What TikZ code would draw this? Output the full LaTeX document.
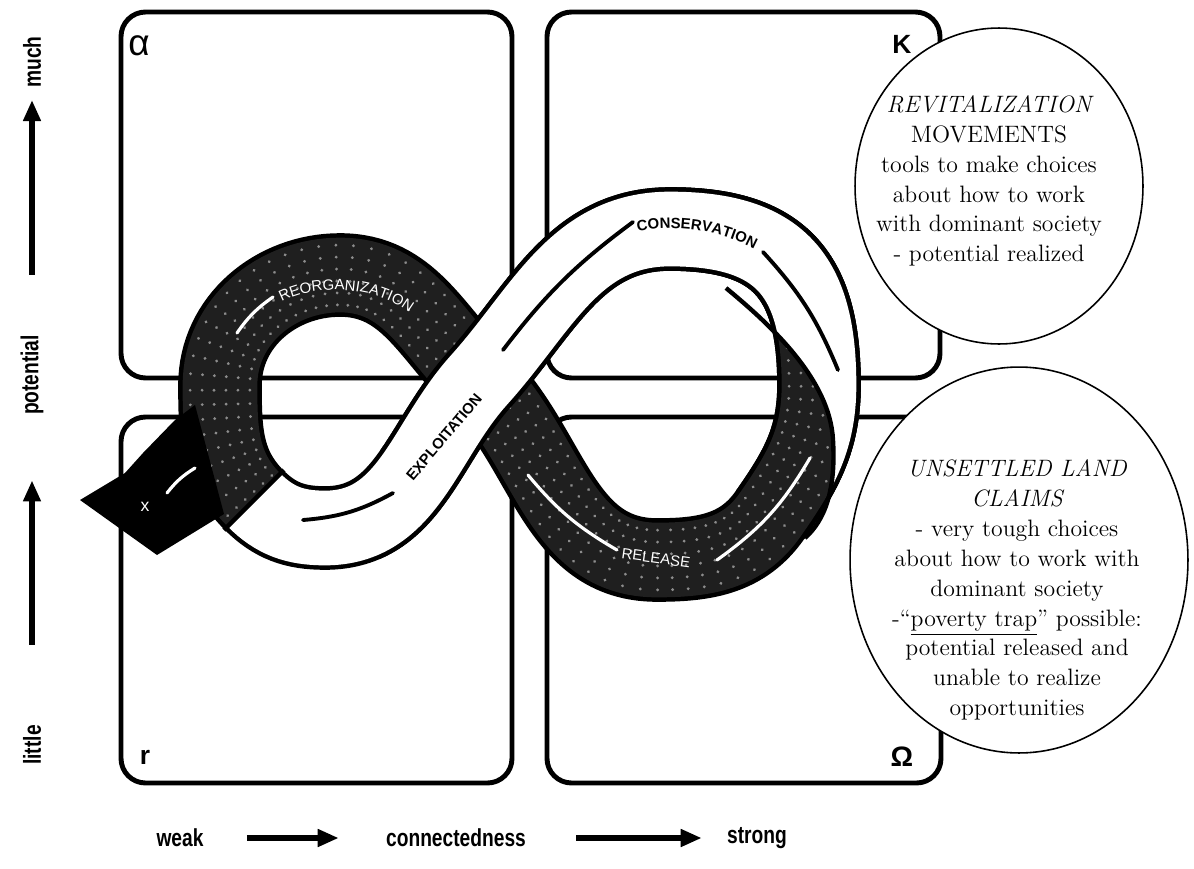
\documentclass[tikz,border=0pt]{standalone}
\usepackage{amsmath}
\usepackage{fontspec}
\usetikzlibrary{arrows.meta,positioning,calc,shapes.geometric,decorations.text,decorations.markings}
\newfontfamily\axisfont[FakeStretch=0.78]{Liberation Sans}
\newfontfamily\labfont{Liberation Sans}
\newcommand\bandfont{\labfont\fontsize{8.5}{8.5}\selectfont}
\newcommand\bandbold{\labfont\bfseries\fontsize{8.5}{8.5}\selectfont}

\begin{document}
\begin{tikzpicture}[x=0.02cm,y=0.02cm,
  quadbox/.style={draw=black,line width=2.8pt,rounded corners=14pt},
  cornerlab/.style={font=\labfont\bfseries\fontsize{15}{15}\selectfont,inner sep=0pt},
  axislab/.style={font=\axisfont\bfseries\fontsize{14}{14}\selectfont,inner sep=0pt},
  axisarrow/.style={-{Triangle[length=12pt,width=9.5pt]},line width=3.2pt},
  whiteribbon/.style={preaction={draw=black,line width=47.6pt},draw=white,line width=42.5pt},
  darkribbon/.style={preaction={draw=black,line width=47.6pt},draw=black!88,line width=42.5pt},
  stipple/.style={postaction={decorate},decoration={markings,
    mark=between positions 0 and 1 step 8pt with {\foreach \o in {-17,-10.2,-3.4,3.4,10.2,17}
      {\fill[black!45] (0pt,\o pt) circle (0.9pt);}}}},
  flowline/.style={line width=2.2pt,line cap=round},
  note/.style={ellipse,draw=black,line width=0.9pt,fill=white,inner sep=0pt},
  notetext/.style={align=center,font=\fontsize{13.5}{17}\selectfont,inner sep=0pt}]
\useasboundingbox (0,0) rectangle (1194,-869);

% the four phase boxes
\draw[quadbox] (121,-12) rectangle (512,-378);
\draw[quadbox] (547,-12) rectangle (940,-378);
\draw[quadbox] (121,-417) rectangle (512,-783);
\draw[quadbox] (547,-417) rectangle (941,-783);
\node[cornerlab,font=\labfont\fontsize{21}{21}\selectfont] (alpha) at (139,-46) {α};
\node[cornerlab] (kappa) at (902,-44) {K};
\node[cornerlab] (rlab) at (145,-757) {r};
\node[cornerlab,font=\labfont\bfseries\fontsize{16}{16}\selectfont] (omega) at (902,-757) {Ω};

% ribbon centre line
\coordinate (S) at (254,-500);
\coordinate (LB) at (325,-528);
\coordinate (X) at (479,-380);
\coordinate (RT) at (670,-229);
\coordinate (RR) at (819,-385);
\coordinate (RM) at (770,-515);
\coordinate (RB) at (657,-560);
\coordinate (LT) at (340,-275);
\coordinate (LL) at (220,-385);
\coordinate (A) at (726,-288);
\coordinate (B) at (805,-538);

\draw[whiteribbon] (S) to[out=-45,in=180] (LB) to[out=0,in=228] (X) to[out=48,in=180] (RT)
  to[out=0,in=90,looseness=1.3] (RR) to[out=-90,in=55] (RM);
\draw[darkribbon,stipple] (RT) to[out=0,in=90,looseness=1.3] (RR) to[out=-90,in=55] (RM)
  to[out=235,in=0] (RB) to[out=180,in=-45] (X) to[out=135,in=0] (LT)
  to[out=180,in=90] (LL) to[out=-90,in=135] (S);
\draw[line width=2.5pt] ($(S)+(-30,-30)$) -- ($(S)+(30,30)$);
\fill (195,-405) -- (175,-420) -- (143,-453) -- (125,-473) -- (80,-500) -- (157,-555) -- (224,-514) -- cycle;

% white side on top, up to the twist
\begin{scope}
  \clip (A) .. controls (772,-326) and (830,-380) .. (833,-440) .. controls (836,-490) and (825,-520) .. (B)
    -- (832,-578) -- (985,-578) -- (985,-150) -- (380,-150) -- (380,-600) -- (480,-600) -- (640,-440) -- cycle;
  \draw[whiteribbon] (S) to[out=-45,in=180] (LB) to[out=0,in=228] (X) to[out=48,in=180] (RT)
    to[out=0,in=90,looseness=1.3] (RR) to[out=-90,in=55] (RM);
\end{scope}
\draw[line width=2.5pt] (A) .. controls (772,-326) and (830,-380) .. (833,-440) .. controls (836,-490) and (825,-520) .. (B);

% flow lines and phase names
\draw[flowline] (303,-520) to[bend right=12] (393,-493);
\draw[flowline] (503,-350) to[bend left=8] (633,-222);
\draw[flowline] (763,-252) to[bend left=10] (838,-370);
\draw[flowline,white,line width=1.8pt] (528,-475) to[bend right=10] (617,-550);
\draw[flowline,white,line width=1.8pt] (717,-560) to[bend right=12] (810,-458);
\draw[flowline,white,line width=1.8pt] (237,-333) to[bend left=10] (273,-297);
\draw[flowline,white,line width=1.8pt] (167,-493) to[bend left=10] (195,-468);
\path[decorate,decoration={text along path,text align=center,text color=white,
  text={|\bandfont|REORGANIZATION}}] (270,-310) .. controls (300,-283) and (380,-280) .. (420,-322);
\path[decorate,decoration={text along path,text align=center,
  text={|\bandbold|CONSERVATION}}] (620,-236) .. controls (655,-224) and (715,-222) .. (770,-258);
\node[font=\bandbold,rotate=50] (exploit) at (444,-437) {EXPLOITATION};
\node[font=\bandfont,text=white,rotate=-8] (release) at (656,-558) {RELEASE};
\node[font=\labfont\fontsize{10}{10}\selectfont,text=white] (exitx) at (145,-507) {x};

% notes
\node[note,minimum width=5.76cm,minimum height=6.32cm] (revital) at (999,-186) {};
\node[notetext] (revitaltext) at (989,-181) {{\itshape REVITALIZATION}\\MOVEMENTS\\tools to make choices\\about how to work\\with dominant society\\- potential realized};
\node[note,minimum width=6.76cm,minimum height=7.72cm] (landclaims) at (1019,-560) {};
\node[notetext] (landtext) at (1017,-590) {{\itshape UNSETTLED LAND}\\{\itshape CLAIMS}\\- very tough choices\\about how to work with\\dominant society\\-“\underline{poverty trap}” possible:\\potential released and\\unable to realize\\opportunities};

% axes
\node[axislab] (weak) at (180,-838) {weak};
\node[axislab] (conn) at (456,-838) {connectedness};
\node[axislab] (strong) at (757,-838) {strong};
\draw[axisarrow] ($(weak.east)+(43,0)$) -- ($(conn.west)+(-47,0)$);
\draw[axisarrow] ($(conn.east)+(50,0)$) -- ($(strong.west)+(-25,0)$);
\node[axislab,rotate=90] (much) at (32,-62) {much};
\node[axislab,rotate=90] (potential) at (32,-375) {potential};
\node[axislab,rotate=90] (little) at (32,-745) {little};
\draw[axisarrow] ($(little.east)+(0,80)$) -- ($(potential.west)+(0,-65)$);
\draw[axisarrow] ($(potential.east)+(0,60)$) -- ($(much.west)+(0,-12)$);
\end{tikzpicture}
\end{document}
